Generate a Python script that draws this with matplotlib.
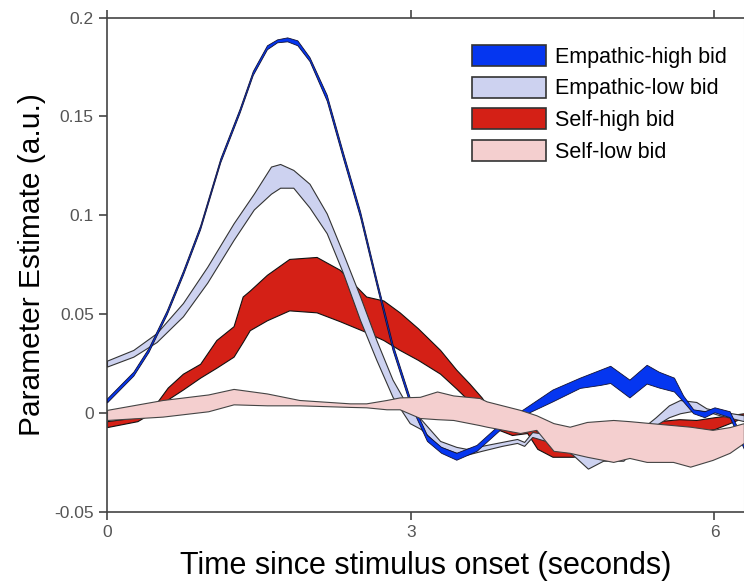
import numpy as np
import matplotlib.pyplot as plt
from matplotlib.patches import Patch

# Empathic-high bid (blue), narrow band
eh_x = [0.0, 0.26, 0.41, 0.59, 0.75, 0.92, 1.12, 1.31, 1.44, 1.58, 1.68, 1.78, 1.88, 2.0, 2.17,
        2.33, 2.5, 2.66, 2.82, 2.99, 3.16, 3.3, 3.45, 3.65, 3.91, 4.11, 4.4, 4.67, 4.87, 4.97,
        5.16, 5.33, 5.45, 5.6, 5.69, 5.79, 5.9, 6.0, 6.15, 6.29]
eh_lo = [0.0055, 0.019, 0.031, 0.050, 0.070, 0.093, 0.127, 0.152, 0.171, 0.184, 0.1875, 0.188,
         0.186, 0.178, 0.158, 0.129, 0.099, 0.065, 0.032, 0.005, -0.014, -0.020, -0.0235,
         -0.019, -0.007, -0.001, 0.006, 0.0128, 0.0143, 0.0153, 0.008, 0.015, 0.013, 0.011,
         0.006, 0.0, -0.002, 0.0005, -0.002, -0.018]
eh_hi = [0.0075, 0.021, 0.033, 0.052, 0.072, 0.095, 0.129, 0.154, 0.173, 0.186, 0.189, 0.190,
         0.1885, 0.180, 0.161, 0.132, 0.102, 0.068, 0.035, 0.008, -0.011, -0.017, -0.020,
         -0.016, -0.004, 0.002, 0.012, 0.018, 0.022, 0.024, 0.017, 0.0245, 0.021, 0.018, 0.009,
         0.002, 0.001, 0.003, 0.001, -0.014]

# Empathic-low bid (light blue)
el_x = [0.0, 0.26, 0.49, 0.75, 0.99, 1.25, 1.45, 1.62, 1.71, 1.84, 2.0, 2.17, 2.33, 2.5, 2.66,
        2.82, 2.99, 3.1, 3.29, 3.45, 3.55, 3.7, 3.9, 4.05, 4.12, 4.2, 4.4, 4.6, 4.75, 4.9, 5.1,
        5.3, 5.42, 5.55, 5.66, 5.82, 5.92, 6.05, 6.29]
el_lo = [0.0236, 0.0286, 0.036, 0.049, 0.066, 0.0876, 0.103, 0.111, 0.114, 0.114, 0.104, 0.091,
         0.071, 0.047, 0.027, 0.0083, -0.005, -0.008, -0.017, -0.020, -0.021, -0.019, -0.0165,
         -0.015, -0.0165, -0.012, -0.015, -0.021, -0.028, -0.024, -0.024, -0.013, -0.006, -0.002,
         0.0, 0.0015, 0.001, -0.001, -0.004]
el_hi = [0.0266, 0.032, 0.0405, 0.0557, 0.074, 0.096, 0.111, 0.1247, 0.126, 0.123, 0.116, 0.101,
         0.081, 0.059, 0.037, 0.017, 0.0017, -0.003, -0.014, -0.017, -0.018, -0.0165, -0.0145,
         -0.013, -0.0145, -0.0095, -0.011, -0.015, -0.022, -0.019, -0.018, -0.007, -0.002, 0.004,
         0.0067, 0.0057, 0.0025, 0.001, -0.001]

# Self-high bid (red)
sh_x = [0.0, 0.3, 0.5, 0.6, 0.75, 0.92, 1.08, 1.25, 1.34, 1.41, 1.58, 1.8, 2.07, 2.3, 2.56,
        2.73, 2.89, 3.07, 3.29, 3.45, 3.58, 3.7, 3.85, 4.0, 4.15, 4.25, 4.4, 4.6, 4.75, 4.9,
        5.2, 5.45, 5.65, 5.82, 6.0, 6.15, 6.29]
sh_lo = [-0.007, -0.004, 0.002, 0.007, 0.012, 0.018, 0.023, 0.0286, 0.036, 0.042, 0.047, 0.052,
         0.051, 0.0465, 0.041, 0.037, 0.032, 0.027, 0.020, 0.0125, 0.006, 0.0, -0.008, -0.011,
         -0.010, -0.018, -0.022, -0.022, -0.021, -0.020, -0.015, -0.006, -0.008, -0.0094,
         -0.008, -0.005, -0.002]
sh_hi = [-0.004, -0.002, 0.006, 0.013, 0.020, 0.025, 0.037, 0.044, 0.059, 0.062, 0.070, 0.078,
         0.079, 0.0725, 0.059, 0.057, 0.051, 0.043, 0.032, 0.022, 0.015, 0.008, -0.003, -0.007,
         -0.006, -0.009, -0.018, -0.018, -0.017, -0.018, -0.010, -0.004, -0.003, -0.0034,
         -0.002, -0.001, 0.0]

# Self-low bid (pink)
sl_x = [0.0, 0.55, 1.0, 1.25, 1.58, 1.9, 2.4, 2.56, 2.76, 2.89, 3.09, 3.26, 3.42, 3.68, 3.75,
        4.08, 4.24, 4.41, 4.57, 4.74, 5.0, 5.16, 5.33, 5.59, 5.76, 5.98, 6.15, 6.29]
sl_lo = [-0.0034, -0.0017, 0.001, 0.0045, 0.004, 0.004, 0.0032, 0.003, 0.002, 0.002, -0.0024,
         -0.003, -0.0034, -0.006, -0.0068, -0.010, -0.0084, -0.019, -0.020, -0.022, -0.0246,
         -0.0226, -0.0246, -0.0246, -0.027, -0.0236, -0.020, -0.015]
sl_hi = [0.0017, 0.0067, 0.0095, 0.0123, 0.010, 0.0067, 0.005, 0.005, 0.0067, 0.008, 0.0083,
         0.011, 0.009, 0.0077, 0.006, 0.0017, -0.001, -0.005, -0.0068, -0.0044, -0.0034, -0.004,
         -0.0048, -0.006, -0.0068, -0.0084, -0.007, -0.005]

labels = ["Empathic-high bid", "Empathic-low bid", "Self-high bid", "Self-low bid"]
colors = ["#0536f0", "#cdd2f0", "#d42016", "#f4cfcf"]
edges = ["#111133", "#333333", "#111111", "#444444"]
widths = [0.6, 0.8, 0.8, 0.8]

plt.rcParams['font.family'] = ['Liberation Sans', 'DejaVu Sans']

fig = plt.figure(figsize=(7.44, 5.86), dpi=100)
ax = fig.add_axes([0.1438, 0.126, 0.856, 0.844])

series = [(sh_x, sh_lo, sh_hi, 2), (el_x, el_lo, el_hi, 1), (eh_x, eh_lo, eh_hi, 0),
          (sl_x, sl_lo, sl_hi, 3)]
for k, (xs, lo, hi, i) in enumerate(series):
    ax.fill_between(xs, lo, hi, facecolor=colors[i], edgecolor=edges[i], linewidth=widths[i],
                    zorder=2 + k)

ax.set_xlim(0, 6.29)
ax.set_ylim(-0.05, 0.2)
ax.set_xticks([0, 3, 6])
ax.set_xticklabels(["0", "3", "6"])
ax.set_yticks([-0.05, 0, 0.05, 0.1, 0.15, 0.2])
ax.set_yticklabels(["-0.05", "0", "0.05", "0.1", "0.15", "0.2"])
ax.tick_params(direction='out', length=6, width=1.2, color='#444444', labelsize=12.5,
               labelcolor='#555555', top=True)
for s in ['left', 'bottom', 'top']:
    ax.spines[s].set_color('#444444')
    ax.spines[s].set_linewidth(1.2)
ax.spines['right'].set_color('#dddddd')

ax.set_xlabel("Time since stimulus onset (seconds)", fontsize=22, labelpad=8)
ax.set_ylabel("Parameter Estimate (a.u.)", fontsize=21.5, labelpad=6)

handles = [Patch(facecolor=colors[i], edgecolor='#333333', linewidth=1.2) for i in range(4)]
ax.legend(handles, labels, loc='upper left', bbox_to_anchor=(0.573, 0.945), frameon=False,
          fontsize=15.5, handlelength=3.44, handleheight=1.12, labelspacing=0.42,
          handletextpad=0.42, borderpad=0, borderaxespad=0)

fig.savefig("out.png", dpi=100)
